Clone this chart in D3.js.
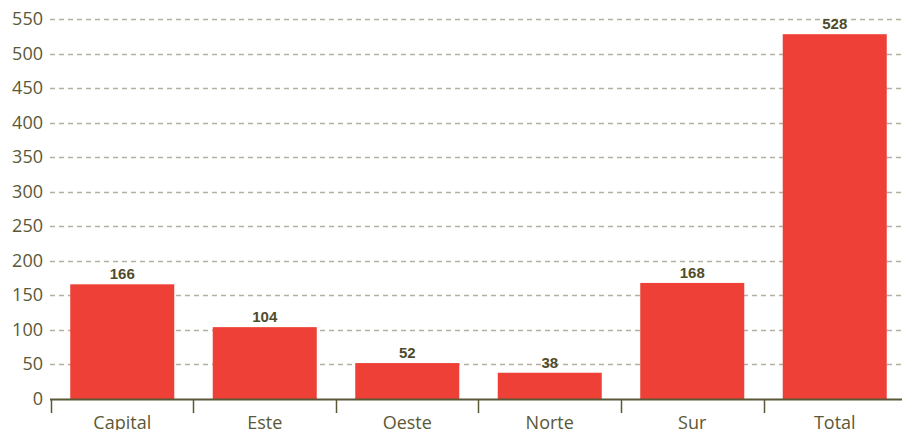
<!DOCTYPE html>
<html>
<head>
<meta charset="utf-8">
<script src="https://cdn.jsdelivr.net/npm/d3@7"></script>
<style>
  body { margin: 0; background: #fff; overflow: hidden; }
  svg { display: block; }
</style>
</head>
<body>
<div id="chart"></div>
<script>
var categories = ["Capital", "Este", "Oeste", "Norte", "Sur", "Total"]
var values = [166, 104, 52, 38, 168, 528]
var yTicks = [0, 50, 100, 150, 200, 250, 300, 350, 400, 450, 500, 550]

var width = 902, height = 430
var left = 51, right = 906, baseY = 399, topY = 19

var svg = d3.select('#chart').append('svg')
  .attr("width", width)
  .attr("height", height)

var x = d3.scaleBand()
  .domain(categories)
  .range([left, right])
  .paddingInner(0.27)
  .paddingOuter(0.135)

var y = d3.scaleLinear()
  .domain([0, 550])
  .range([baseY, topY])

// grid lines
svg.append("g")
  .selectAll("line")
  .data(yTicks.filter(function (d) { return d > 0 }))
  .enter().append("line")
  .attr("x1", 50)
  .attr("x2", width)
  .attr("y1", function (d) { return Math.round(y(d)) + 0.5 })
  .attr("y2", function (d) { return Math.round(y(d)) + 0.5 })
  .attr("stroke", "#b3b0a0")
  .attr("stroke-width", 1.3)
  .attr("stroke-dasharray", "5,4")

// y labels
svg.append("g")
  .selectAll("text")
  .data(yTicks)
  .enter().append("text")
  .attr("x", 43)
  .attr("y", function (d) { return y(d) + 6 })
  .attr("text-anchor", "end")
  .attr("font-family", "'Open Sans', sans-serif")
  .attr("font-size", 18)
  .attr("fill", "#5a5836")
  .text(function (d) { return d })

// bars
svg.append("g")
  .selectAll("rect")
  .data(values)
  .enter().append("rect")
  .attr("x", function (d, i) { return x(categories[i]) })
  .attr("width", x.bandwidth())
  .attr("y", function (d) { return y(d) })
  .attr("height", function (d) { return y(0) - y(d) })
  .attr("fill", "#ee4036")

// value labels
svg.append("g")
  .selectAll("text")
  .data(values)
  .enter().append("text")
  .attr("x", function (d, i) { return x(categories[i]) + x.bandwidth() / 2 })
  .attr("y", function (d) { return y(d) - 5 })
  .attr("text-anchor", "middle")
  .attr("font-family", "'Liberation Sans', Arial, sans-serif")
  .attr("font-weight", "bold")
  .attr("font-size", 15)
  .attr("fill", "#4f4c2c")
  .text(function (d) { return d })

// x axis
var step = x.step()
var boundaries = categories.map(function (c) { return x(c) - step * x.paddingInner() / 2 })

svg.append("line")
  .attr("x1", left - 1)
  .attr("x2", width)
  .attr("y1", baseY + 0.5)
  .attr("y2", baseY + 0.5)
  .attr("stroke", "#5a5836")
  .attr("stroke-width", 2)

svg.append("g")
  .selectAll("line")
  .data(boundaries)
  .enter().append("line")
  .attr("x1", function (d) { return Math.round(d) + 0.5 })
  .attr("x2", function (d) { return Math.round(d) + 0.5 })
  .attr("y1", baseY)
  .attr("y2", baseY + 14)
  .attr("stroke", "#5a5836")
  .attr("stroke-width", 1.5)

svg.append("g")
  .selectAll("text")
  .data(categories)
  .enter().append("text")
  .attr("x", function (d) { return x(d) + x.bandwidth() / 2 })
  .attr("y", 429)
  .attr("text-anchor", "middle")
  .attr("font-family", "'Open Sans', sans-serif")
  .attr("font-size", 18)
  .attr("fill", "#5a5836")
  .text(function (d) { return d })
</script>
</body>
</html>
